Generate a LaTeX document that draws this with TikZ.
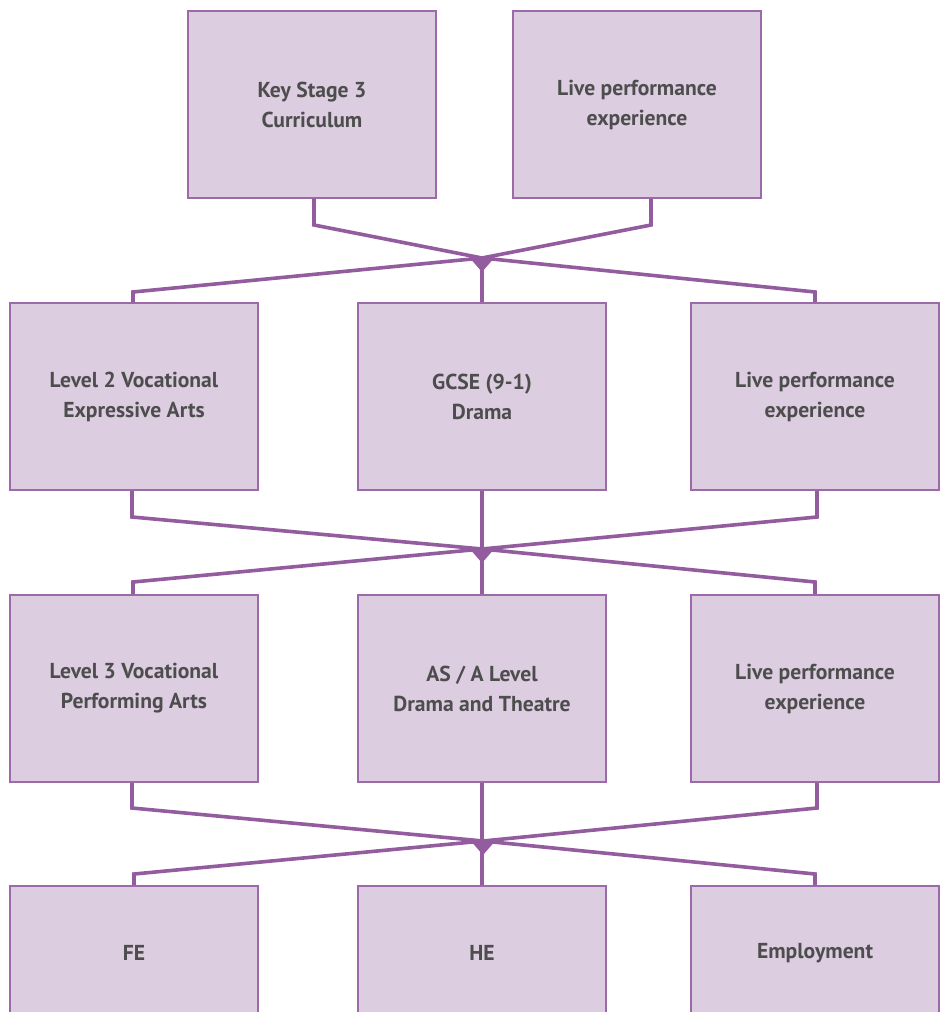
\documentclass[tikz,border=0pt]{standalone}
\usepackage{fontspec}
\setmainfont{PT Sans}
\usetikzlibrary{calc}
\definecolor{boxfill}{HTML}{DCCDE1}
\definecolor{boxline}{HTML}{9C6AA8}
\definecolor{linkcol}{HTML}{935C9E}
\definecolor{txt}{HTML}{4D4D4D}
\tikzset{
  box/.style={draw=boxline, fill=boxfill, line width=1.5pt, rectangle,
    minimum width=186pt, minimum height=140.25pt, inner sep=0pt,
    align=center, text=txt, font=\fontsize{16.2}{22.5}\selectfont\bfseries},
  lowbox/.style={box, minimum height=100.5pt},
  link/.style={draw=linkcol, line width=2.7pt, line join=miter},
  knot/.style={fill=linkcol}
}
\begin{document}
\begin{tikzpicture}[x=0.75pt,y=-0.75pt]
\useasboundingbox (0,0) rectangle (946,1012);
% row 1
\node[box] (ks3) at (312,104.5) {Key Stage 3\\Curriculum};
\node[box] (live1) at (637,104.5) {Live performance\\experience};
% row 2
\node[box] (lv2) at (134,396.5) {Level 2 Vocational\\Expressive Arts};
\node[box] (gcse) at (482,396.5) {GCSE (9-1)\\Drama};
\node[box] (live2) at (815,396.5) {Live performance\\experience};
% row 3
\node[box] (lv3) at (134,688.5) {Level 3 Vocational\\Performing Arts};
\node[box] (asa) at (482,688.5) {AS / A Level\\Drama and Theatre};
\node[box] (live3) at (815,688.5) {Live performance\\experience};
% row 4
\node[lowbox] (fe) at (134,953) {FE};
\node[lowbox] (he) at (482,953) {HE};
\node[lowbox] (emp) at (815,953) {Employment};
% junctions
\coordinate (j1) at (482,258);
\coordinate (j2) at (482,549);
\coordinate (j3) at (483,841);
% row1 -> row2
\draw[link] ($(ks3.south)+(2,0)$) -- ++(0,26) coordinate (a1) -- (j1);
\draw[link] ($(live1.south)+(14,0)$) -- ++(0,26) coordinate (a2) -- (j1);
\draw[link] (j1) -- (133,292) coordinate (c1) -- (c1 |- lv2.north);
\draw[link] (j1) -- (815,292) coordinate (c2) -- (c2 |- live2.north);
\draw[link] (j1) -- (gcse.north);
% row2 -> row3
\draw[link] ($(lv2.south)+(-2,0)$) -- ++(0,26) coordinate (a3) -- (j2);
\draw[link] ($(live2.south)+(2,0)$) -- ++(0,26) coordinate (a4) -- (j2);
\draw[link] (j2) -- (133,582) coordinate (c3) -- (c3 |- lv3.north);
\draw[link] (j2) -- (815,582) coordinate (c4) -- (c4 |- live3.north);
\draw[link] (gcse.south) -- (asa.north);
% row3 -> row4
\draw[link] ($(lv3.south)+(-2,0)$) -- ++(0,25) coordinate (a5) -- (j3);
\draw[link] ($(live3.south)+(2,0)$) -- ++(0,25) coordinate (a6) -- (j3);
\draw[link] (j3) -- (134,874) coordinate (c5) -- (c5 |- fe.north);
\draw[link] (j3) -- (815,874) coordinate (c6) -- (c6 |- emp.north);
\draw[link] (asa.south) -- (he.north);
% knots
\foreach \j in {j1,j2,j3}{
  \fill[knot] ($(\j)+(-13,-1)$) -- ($(\j)+(13,-1)$) -- ($(\j)+(0,14)$) -- cycle;
}
\end{tikzpicture}
\end{document}
